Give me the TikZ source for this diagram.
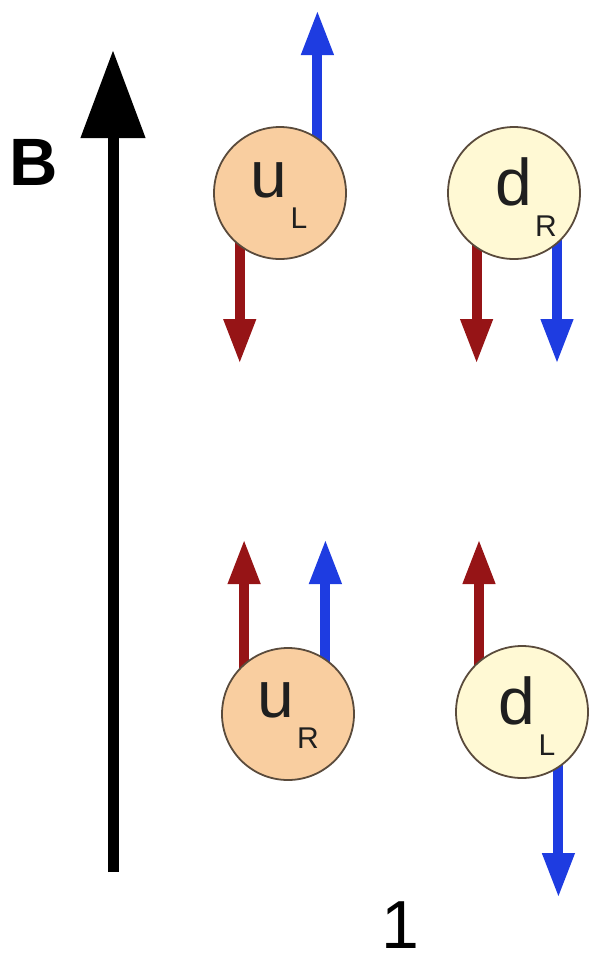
\documentclass[tikz,border=0pt]{standalone}
\usepackage{fontspec}
\setmainfont{Liberation Sans}
\usetikzlibrary{arrows.meta,backgrounds}
\definecolor{spinred}{RGB}{150,20,22}
\definecolor{spinblue}{RGB}{30,60,225}
\definecolor{upfill}{RGB}{249,206,160}
\definecolor{downfill}{RGB}{255,249,212}
\definecolor{rim}{RGB}{90,75,60}
\newcommand\qname[4]{\hspace{#4}\raisebox{#3}{#1\hspace{3pt}\raisebox{-31pt}{\fontsize{30}{30}\selectfont #2}}}
\begin{document}
\begin{tikzpicture}[x=1pt,y=-1pt,
  quark/.style={circle, draw=rim, line width=1.8pt, minimum size=132pt, inner sep=0pt,
    text height=0pt, text depth=0pt, font=\fontsize{66}{66}\selectfont, text=black!88},
  upq/.style={quark, fill=upfill},
  dnq/.style={quark, fill=downfill},
  spin/.style={line width=10pt, shorten <=-10pt, -{Triangle[length=45pt,width=30pt]}},
  spinr/.style={spin, draw=spinred},
  spinb/.style={spin, draw=spinblue},
  field/.style={line width=11pt, -{Triangle[length=88pt,width=62pt]}}
]
\useasboundingbox (0,0) rectangle (596,954);
% magnetic field
\coordinate (Bbot) at (113,872);
\coordinate (Btop) at (113,50);
\draw[field] (Bbot) -- (Btop);
\node[font=\fontsize{67}{67}\selectfont\bfseries, anchor=base] (Blabel) at (34,185) {B};
% quarks
\node[upq] (uL) at (280,193) {\qname{u}{L}{-4pt}{-2pt}};
\node[dnq] (dR) at (514,193) {\qname{d}{R}{-12pt}{24pt}};
\node[upq] (uR) at (288,714) {\qname{u}{R}{-3pt}{0pt}};
\node[dnq] (dL) at (522,712) {\qname{d}{L}{-12pt}{10pt}};
% arrow tip heights
\coordinate (topA) at (0,10);
\coordinate (midA) at (0,364);
\coordinate (lowA) at (0,539);
\coordinate (botA) at (0,898);
\begin{scope}[on background layer]
\draw[spinb] (uL.56) -- (uL.56 |- topA);
\draw[spinr] (uL.-127) -- (uL.-127 |- midA);
\draw[spinr] (dR.-124) -- (dR.-124 |- midA);
\draw[spinb] (dR.-50) -- (dR.-50 |- midA);
\draw[spinr] (uR.131) -- (uR.131 |- lowA);
\draw[spinb] (uR.56) -- (uR.56 |- lowA);
\draw[spinr] (dL.130) -- (dL.130 |- lowA);
\draw[spinb] (dL.-57) -- (dL.-57 |- botA);
\end{scope}
\node[font=\fontsize{68}{68}\selectfont, anchor=base] (one) at (400,948) {1};
\end{tikzpicture}
\end{document}
